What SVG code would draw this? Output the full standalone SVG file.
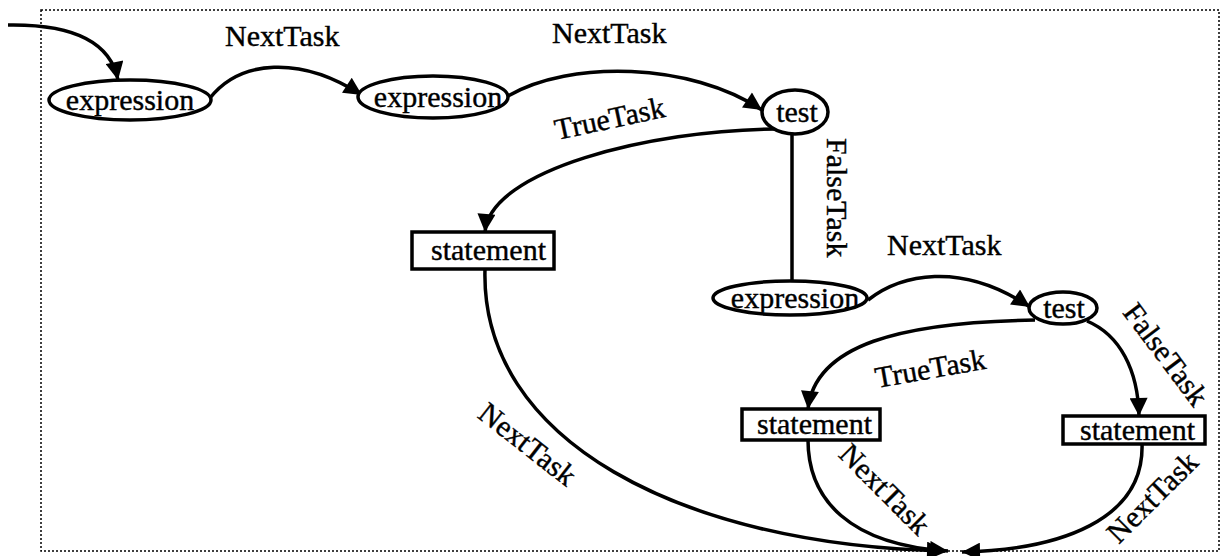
<svg xmlns="http://www.w3.org/2000/svg" width="1221" height="556" viewBox="0 0 1221 556">
<style>
.n{fill:#fff;stroke:#000;stroke-width:3.5}
.t{font-family:"Liberation Serif","Times New Roman",serif;font-size:30px;fill:#000;stroke:#000;stroke-width:0.4}
.c{fill:none;stroke:#000;stroke-width:3.5}
.a{marker-end:url(#ah)}
.b{fill:none;stroke:#000;stroke-width:1.5;stroke-dasharray:2 2}
</style>
<defs>
<marker id="ah" viewBox="0 0 10 10" refX="10" refY="5" markerWidth="21" markerHeight="18" markerUnits="userSpaceOnUse" orient="auto">
<path d="M0,0 L10,5 L0,10 z" fill="#000"/>
</marker>
<clipPath id="cl2"><ellipse cx="433" cy="97" rx="74" ry="21"/></clipPath>
<clipPath id="cl3"><ellipse cx="790" cy="298" rx="76" ry="16"/></clipPath>
</defs>
<rect class="b" x="41" y="10" width="1178" height="541"/>
<g id="connectors">
<path class="c a" d="M8,25 C70,24 110,40 118,80"/>
<path class="c a" d="M210,98 C240,60 300,55 362,95"/>
<path class="c a" d="M508,96 C570,60 690,62 762,110"/>
<path class="c a" d="M776,129 C650,130 490,170 485,232"/>
<path class="c" d="M792,134 L792,282"/>
<path class="c a" d="M868,300 C900,275 960,260 1030,307"/>
<path class="c a" d="M1035,320 C900,322 815,345 808,409"/>
<path class="c a" d="M1087,321 C1120,335 1138,370 1139,416"/>
<path class="c a" d="M485,269 C480,440 680,545 945,551"/>
<path class="c a" d="M808,440 C808,500 850,545 948,551"/>
<path class="c a" d="M1142,443 C1145,520 1060,550 962,552"/>
<text class="t" x="225" y="46">NextTask</text>
<text class="t" x="552" y="43">NextTask</text>
<text class="t" transform="translate(557,140) rotate(-12)">TrueTask</text>
<text class="t" transform="translate(827,138) rotate(90)">FalseTask</text>
<text class="t" x="887" y="255">NextTask</text>
<text class="t" transform="translate(877,388) rotate(-10)">TrueTask</text>
<text class="t" text-anchor="middle" y="9" transform="translate(1165,355) rotate(53)">FalseTask</text>
<text class="t" text-anchor="middle" y="9" transform="translate(527,445) rotate(38)">NextTask</text>
<text class="t" text-anchor="middle" y="9" transform="translate(884,490) rotate(45)">NextTask</text>
<text class="t" text-anchor="middle" y="9" transform="translate(1153,498) rotate(-45)">NextTask</text>
</g>
<g id="expr1">
<ellipse class="n" cx="130" cy="100" rx="81" ry="20"/>
<text class="t" x="130" y="110" text-anchor="middle">expression</text>
</g>
<g id="expr2">
<ellipse class="n" cx="433" cy="97" rx="75" ry="21"/>
<text class="t" x="438" y="107" text-anchor="middle" clip-path="url(#cl2)">expression</text>
</g>
<g id="test1">
<ellipse class="n" cx="795" cy="112" rx="33" ry="22"/>
<text class="t" x="797" y="122" text-anchor="middle">test</text>
</g>
<g id="statement1">
<rect class="n" x="412" y="232" width="142" height="37"/>
<text class="t" x="431" y="260">statement</text>
</g>
<g id="expr3">
<ellipse class="n" cx="790" cy="298" rx="77" ry="17"/>
<text class="t" x="795" y="308" text-anchor="middle" clip-path="url(#cl3)">expression</text>
</g>
<g id="test2">
<ellipse class="n" cx="1063" cy="308" rx="34" ry="16"/>
<text class="t" x="1064" y="318" text-anchor="middle">test</text>
</g>
<g id="statement2">
<rect class="n" x="742" y="409" width="138" height="31"/>
<text class="t" x="757" y="434">statement</text>
</g>
<g id="statement3">
<rect class="n" x="1063" y="416" width="142" height="28"/>
<text class="t" x="1080" y="440">statement</text>
</g>
</svg>
